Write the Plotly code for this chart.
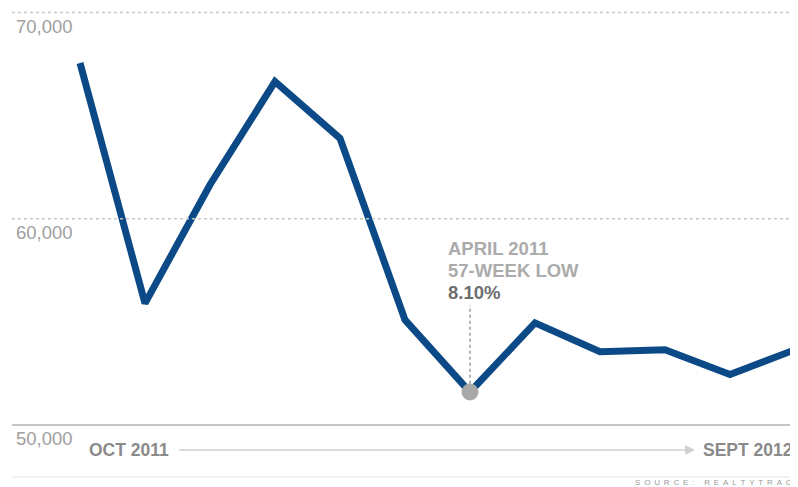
import plotly.graph_objects as go

months = ["Oct 2011", "Nov 2011", "Dec 2011", "Jan 2012", "Feb 2012", "Mar 2012",
          "Apr 2012", "May 2012", "Jun 2012", "Jul 2012", "Aug 2012", "Sep 2012"]
values = [67550, 55900, 61650, 66650, 63900, 55100, 51600, 54950, 53550, 53650, 52450, 53650]
y_ticks = [50000, 60000, 70000]
y_tick_labels = ["50,000", "60,000", "70,000"]
low_index = 6
low_text = ["APRIL 2011", "57-WEEK LOW", "8.10%"]
start_label = "OCT 2011"
end_label = "SEPT 2012"
source = "SOURCE: REALTYTRAC"

xs = list(range(len(months)))
FONT = "Liberation Sans, Arial, sans-serif"
W, H = 790, 479

fig = go.Figure()
fig.add_trace(go.Scatter(x=xs, y=values, mode="lines",
                         line=dict(color="#0c4a87", width=7), hoverinfo="skip"))
fig.add_trace(go.Scatter(x=[xs[low_index]], y=[values[low_index]], mode="markers",
                         marker=dict(color="#a8a8a8", size=17), hoverinfo="skip"))

shapes = []
for t in y_ticks:
    if t == 50000:
        shapes.append(dict(type="line", xref="paper", yref="y", x0=0.005, x1=1, y0=t, y1=t,
                           line=dict(color="#c4c4c4", width=2)))
    else:
        shapes.append(dict(type="line", xref="paper", yref="y", x0=0.005, x1=1, y0=t, y1=t,
                           line=dict(color="#c8c8c8", width=1.5, dash="dot")))
# bottom light rule
shapes.append(dict(type="line", xref="paper", yref="paper", x0=0.005, x1=1, y0=0.021, y1=0.021,
                   line=dict(color="#ececec", width=1.5)))
# dotted leader to the low point
shapes.append(dict(type="line", xref="x", yref="y", x0=xs[low_index], x1=xs[low_index],
                   y0=values[low_index] + 400, y1=55800,
                   line=dict(color="#9a9a9a", width=1.5, dash="dot")))

annotations = []
for t, lab in zip(y_ticks, y_tick_labels):
    annotations.append(dict(x=0.007, xref="paper", y=t, yref="y", text=lab, showarrow=False,
                            xanchor="left", yanchor="top", yshift=-1,
                            font=dict(family=FONT, size=18.5, color="#a0a0a0")))

low_colors = ["#ababab", "#ababab", "#6e6e6e"]
for i, (txt, col) in enumerate(zip(low_text, low_colors)):
    annotations.append(dict(x=xs[low_index] - 0.375, y=values[low_index], xref="x", yref="y",
                            text="<b>" + txt + "</b>", showarrow=False,
                            xanchor="left", yanchor="middle",
                            yshift=(393 - 249) - 22 * i,
                            font=dict(family=FONT, size=18.5, color=col)))

annotations.append(dict(x=0.11, y=48790, xref="x", yref="y", text="<b>" + start_label + "</b>",
                        showarrow=False, xanchor="left", yanchor="middle",
                        font=dict(family=FONT, size=17.5, color="#8a8a8a")))
annotations.append(dict(x=9.56, y=48790, xref="x", yref="y", text="<b>" + end_label + "</b>",
                        showarrow=False, xanchor="left", yanchor="middle",
                        font=dict(family=FONT, size=17.5, color="#8a8a8a")))
annotations.append(dict(x=9.46, y=48790, xref="x", yref="y", ax=1.5, ay=48790,
                        axref="x", ayref="y", text="", showarrow=True,
                        arrowhead=2, arrowsize=1.3, arrowwidth=1.5, arrowcolor="#d0d0d0"))
annotations.append(dict(x=0.995, y=0.009, xref="paper", yref="paper",
                        text="&nbsp;&#8201;".join(list(source)), showarrow=False,
                        xanchor="right", yanchor="middle",
                        font=dict(family=FONT, size=8, color="#9a9a9a")))

fig.update_layout(
    width=W, height=H,
    margin=dict(l=0, r=0, t=0, b=0),
    paper_bgcolor="white", plot_bgcolor="white",
    showlegend=False,
    xaxis=dict(range=[-72 / 65, 11 + 3 / 65], visible=False, fixedrange=True),
    yaxis=dict(range=[46994, 70218], visible=False, fixedrange=True),
    shapes=shapes, annotations=annotations,
)

fig.write_html("out.html")
